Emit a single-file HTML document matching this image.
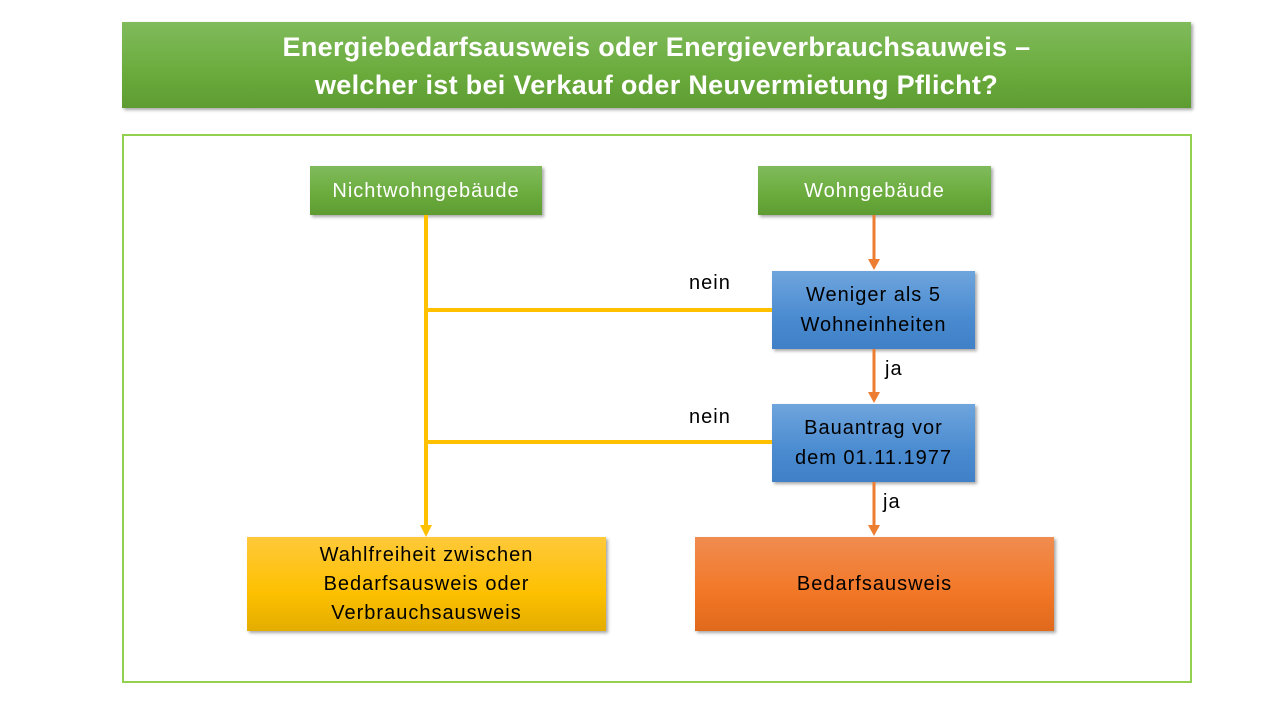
<!DOCTYPE html>
<html><head><meta charset="utf-8"><style>
body{margin:0;width:1280px;height:720px;background:#fff;font-family:"Liberation Sans",sans-serif;position:relative;overflow:hidden}
.b{position:absolute;display:flex;align-items:center;justify-content:center;text-align:center;box-shadow:2px 2px 3px rgba(0,0,0,.35);letter-spacing:1px}
.g{background:linear-gradient(#80bb5c,#6aab3c 60%,#5e9c32);color:#fff;font-size:20px}
.bl{background:linear-gradient(#6fa5dd,#4a8bd0 60%,#3f80c6);color:#000;font-size:20px;line-height:30px}
.t{position:absolute;font-size:20px;color:#000;letter-spacing:1px}
</style></head><body>
<div class="b g" style="left:122px;top:22px;width:1069px;height:86px;font-size:27px;font-weight:bold;line-height:38px;letter-spacing:.3px;padding-top:2px;box-sizing:border-box">Energiebedarfsausweis oder Energieverbrauchsauweis –<br>welcher ist bei Verkauf oder Neuvermietung Pflicht?</div>
<div style="position:absolute;left:122px;top:134px;width:1066px;height:545px;border:2px solid #92d050"></div>
<div class="b g" style="left:310px;top:166px;width:232px;height:49px;padding-top:2px;box-sizing:border-box">Nichtwohngebäude</div>
<div class="b g" style="left:758px;top:166px;width:233px;height:49px;padding-top:2px;box-sizing:border-box">Wohngebäude</div>
<div class="b bl" style="left:772px;top:271px;width:203px;height:78px">Weniger als 5<br>Wohneinheiten</div>
<div class="b bl" style="left:772px;top:404px;width:203px;height:78px">Bauantrag vor<br>dem 01.11.1977</div>
<div class="b" style="left:247px;top:537px;width:359px;height:94px;background:linear-gradient(#ffc93a,#fdc000 60%,#e3ad00);font-size:20px;line-height:29px">Wahlfreiheit zwischen<br>Bedarfsausweis oder<br>Verbrauchsausweis</div>
<div class="b" style="left:695px;top:537px;width:359px;height:94px;background:linear-gradient(#f08c50,#f27726 60%,#e0691c);font-size:20px">Bedarfsausweis</div>
<svg width="1280" height="720" style="position:absolute;left:0;top:0">
<g stroke="#ffc000" stroke-width="4" fill="none"><path d="M426 215V527M426 310H772M426 442H772"/></g>
<polygon points="420,525 432,525 426,537" fill="#ffc000"/>
<g stroke="#ed7d31" stroke-width="3"><path d="M874 215V260M874 349V393M874 482V526"/></g>
<g fill="#ed7d31"><polygon points="868,259 880,259 874,270"/><polygon points="868,392 880,392 874,403"/><polygon points="868,525 880,525 874,536"/></g>
</svg>
<div class="t" style="left:689px;top:272px">nein</div>
<div class="t" style="left:689px;top:406px">nein</div>
<div class="t" style="left:885px;top:358px">ja</div>
<div class="t" style="left:883px;top:491px">ja</div>
</body></html>
